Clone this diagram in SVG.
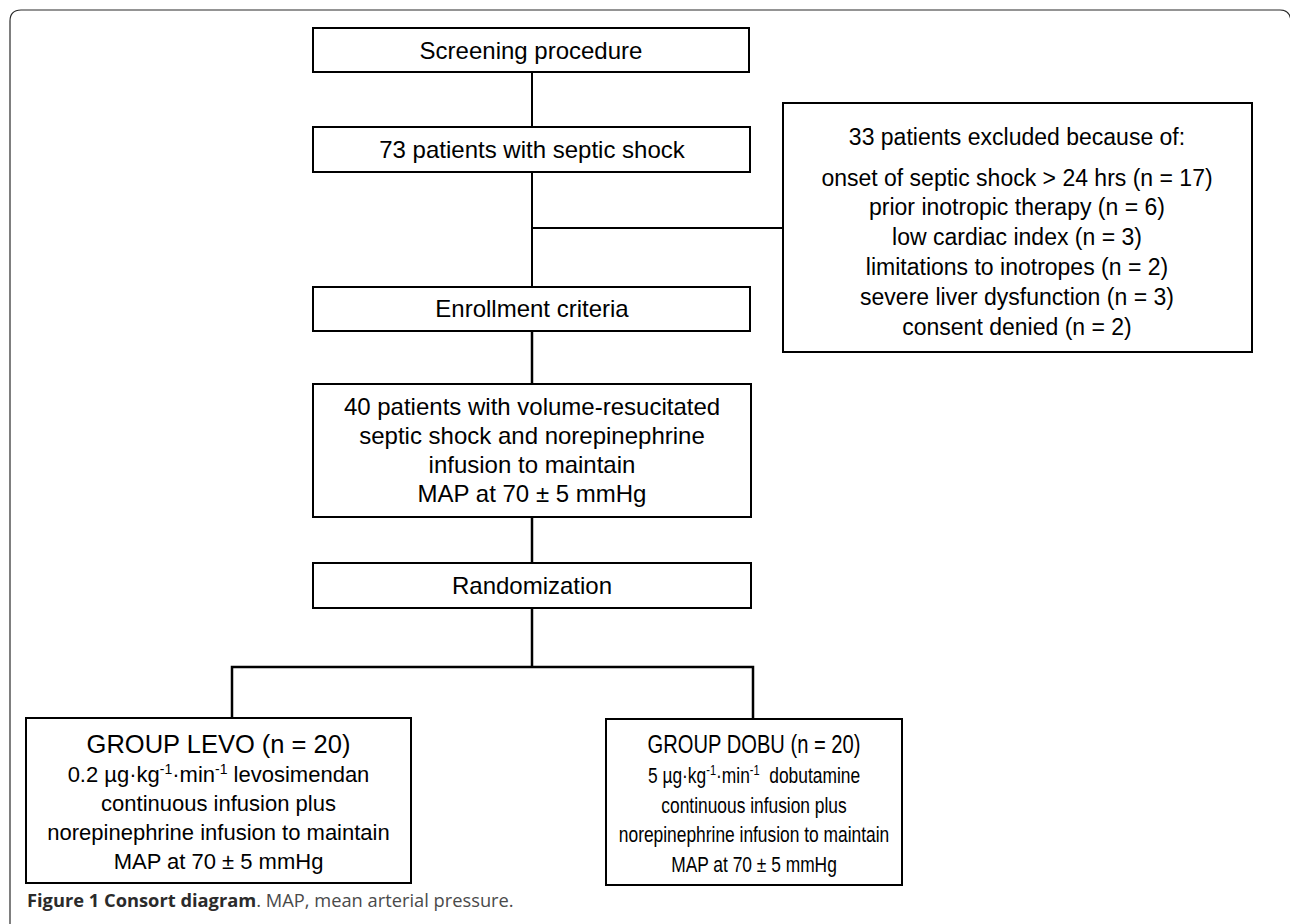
<svg xmlns="http://www.w3.org/2000/svg" width="1290" height="924" viewBox="0 0 1290 924">
<style>
.box{fill:#fff;stroke:#000;stroke-width:2}
.t{font-family:"Liberation Sans",Arial,sans-serif;fill:#000;text-anchor:middle}
.t24{font-size:24px}
.t23{font-size:23px}
.t22{font-size:22px}
.ttl{font-size:25.5px}
.sup{font-size:14px}
.ln{stroke:#000;stroke-width:2;fill:none}
.ln2{stroke:#000;stroke-width:2.5;fill:none}
.cap{font-family:"Open Sans","Noto Sans",sans-serif;font-size:18.3px}
</style>
<rect width="1290" height="924" fill="#fff"/>
<path d="M10,924 V21 Q10,10 21,10 H1280 Q1290,10 1291,21 V924" fill="none" stroke="#2a2a2a" stroke-width="1.2"/>

<g id="connectors">
<line class="ln" x1="532" y1="72" x2="532" y2="127"/>
<line class="ln" x1="532" y1="172" x2="532" y2="287"/>
<line class="ln" x1="532" y1="228" x2="783" y2="228"/>
<line class="ln2" x1="532" y1="331" x2="532" y2="384"/>
<line class="ln2" x1="532" y1="517" x2="532" y2="563"/>
<line class="ln2" x1="532" y1="608" x2="532" y2="667"/>
<path class="ln2" d="M232,718 V667 H753 V719"/>
</g>

<g id="screening">
<rect class="box" x="313" y="28" width="436" height="44"/>
<text class="t t24" x="531" y="59">Screening procedure</text>
</g>

<g id="patients73">
<rect class="box" x="313" y="127" width="437" height="45"/>
<text class="t t24" x="532" y="158">73 patients with septic shock</text>
</g>

<g id="excluded">
<rect class="box" x="783" y="103" width="469" height="249"/>
<text class="t t23" x="1017" y="145">33 patients excluded because of:</text>
<text class="t t23" x="1017" y="186">onset of septic shock &gt; 24 hrs (n = 17)</text>
<text class="t t23" x="1017" y="215">prior inotropic therapy (n = 6)</text>
<text class="t t23" x="1017" y="245">low cardiac index (n = 3)</text>
<text class="t t23" x="1017" y="275">limitations to inotropes (n = 2)</text>
<text class="t t23" x="1017" y="305">severe liver dysfunction (n = 3)</text>
<text class="t t23" x="1017" y="335">consent denied (n = 2)</text>
</g>

<g id="enrollment">
<rect class="box" x="313" y="287" width="437" height="44"/>
<text class="t t24" x="532" y="317">Enrollment criteria</text>
</g>

<g id="patients40">
<rect class="box" x="313" y="384" width="438" height="133"/>
<text class="t t24" x="532" y="415">40 patients with volume-resucitated</text>
<text class="t t24" x="532" y="444">septic shock and norepinephrine</text>
<text class="t t24" x="532" y="473">infusion to maintain</text>
<text class="t t24" x="532" y="502">MAP at 70 ± 5 mmHg</text>
</g>

<g id="randomization">
<rect class="box" x="313" y="563" width="438" height="45"/>
<text class="t t24" x="532" y="594">Randomization</text>
</g>

<g id="levo">
<rect class="box" x="26" y="718" width="385" height="165"/>
<text class="t ttl" x="218.5" y="753">GROUP LEVO (n = 20)</text>
<text class="t t22" x="218.5" y="782">0.2 µg·kg<tspan class="sup" dy="-8">-1</tspan><tspan dy="8">·min</tspan><tspan class="sup" dy="-8">-1</tspan><tspan dy="8"> levosimendan</tspan></text>
<text class="t t22" x="218.5" y="811">continuous infusion plus</text>
<text class="t t22" x="218.5" y="840">norepinephrine infusion to maintain</text>
<text class="t t22" x="218.5" y="869">MAP at 70 ± 5 mmHg</text>
</g>

<g id="dobu">
<rect class="box" x="606" y="719" width="296" height="166"/>
<g transform="translate(754,0) scale(0.79,1)">
<text class="t ttl" x="0" y="753">GROUP DOBU (n = 20)</text>
<text class="t t22" x="0" y="783" xml:space="preserve">5 µg·kg<tspan class="sup" dy="-8">-1</tspan><tspan dy="8">·min</tspan><tspan class="sup" dy="-8">-1</tspan><tspan dy="8">  dobutamine</tspan></text>
<text class="t t22" x="0" y="813">continuous infusion plus</text>
<text class="t t22" x="0" y="842">norepinephrine infusion to maintain</text>
<text class="t t22" x="0" y="872">MAP at 70 ± 5 mmHg</text>
</g>
</g>

<g id="caption">
<text class="cap" x="27" y="907"><tspan font-weight="bold" fill="#2b2b2b">Figure 1 Consort diagram</tspan><tspan fill="#4a4a4a">. MAP, mean arterial pressure.</tspan></text>
</g>
</svg>
